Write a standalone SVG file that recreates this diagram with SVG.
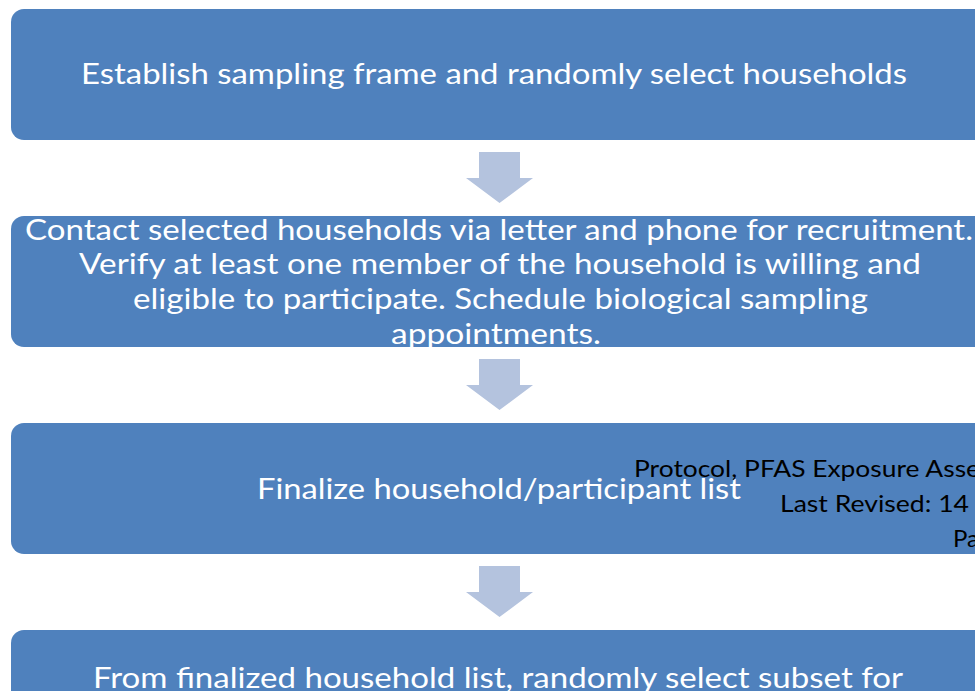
<svg xmlns="http://www.w3.org/2000/svg" width="975" height="691" viewBox="0 0 975 691">
<style>
.box{fill:#4F81BD;}
.t{font-family:Lato,"Liberation Sans",sans-serif;font-size:28px;fill:#FFFFFF;}
.h{font-family:Lato,"Liberation Sans",sans-serif;font-size:24px;fill:#000000;}
.arr{fill:#B4C3DE;}
</style>
<rect width="975" height="691" fill="#FFFFFF"/>
<g id="connectors">
<polygon class="arr" points="479,152 520,152 520,178 533,178 499.5,203 466,178 479,178"/>
<polygon class="arr" points="479,359 520,359 520,385 533,385 499.5,410 466,385 479,385"/>
<polygon class="arr" points="479,566 520,566 520,592 533,592 499.5,617 466,592 479,592"/>
</g>
<g id="node1">
<rect class="box" x="11" y="9" width="990" height="131" rx="13"/>
<text class="t" x="81" y="84" textLength="826" lengthAdjust="spacingAndGlyphs">Establish sampling frame and randomly select households</text>
</g>
<g id="node2">
<rect class="box" x="11" y="216" width="990" height="131" rx="13"/>
<text class="t" x="25" y="240" textLength="948" lengthAdjust="spacingAndGlyphs">Contact selected households via letter and phone for recruitment.</text>
<text class="t" x="79" y="274" textLength="842" lengthAdjust="spacingAndGlyphs">Verify at least one member of the household is  willing and</text>
<text class="t" x="133" y="309" textLength="735" lengthAdjust="spacingAndGlyphs">eligible to participate. Schedule biological sampling</text>
<text class="t" x="391" y="344" textLength="210" lengthAdjust="spacingAndGlyphs">appointments.</text>
</g>
<g id="node3">
<rect class="box" x="11" y="423" width="990" height="131" rx="13"/>
<text class="t" x="257" y="499" textLength="484" lengthAdjust="spacingAndGlyphs">Finalize household/participant list</text>
</g>
<g id="node4">
<rect class="box" x="11" y="630" width="990" height="131" rx="13"/>
<text class="t" x="93" y="688" textLength="810" lengthAdjust="spacingAndGlyphs">From finalized household list, randomly select subset for</text>
</g>
<g id="header">
<text class="h" x="634" y="477" textLength="346" lengthAdjust="spacingAndGlyphs">Protocol, PFAS Exposure Asse</text>
<text class="h" x="780" y="512" textLength="189" lengthAdjust="spacingAndGlyphs">Last Revised: 14</text>
<text class="h" x="953" y="547">Pa</text>
</g>
</svg>
